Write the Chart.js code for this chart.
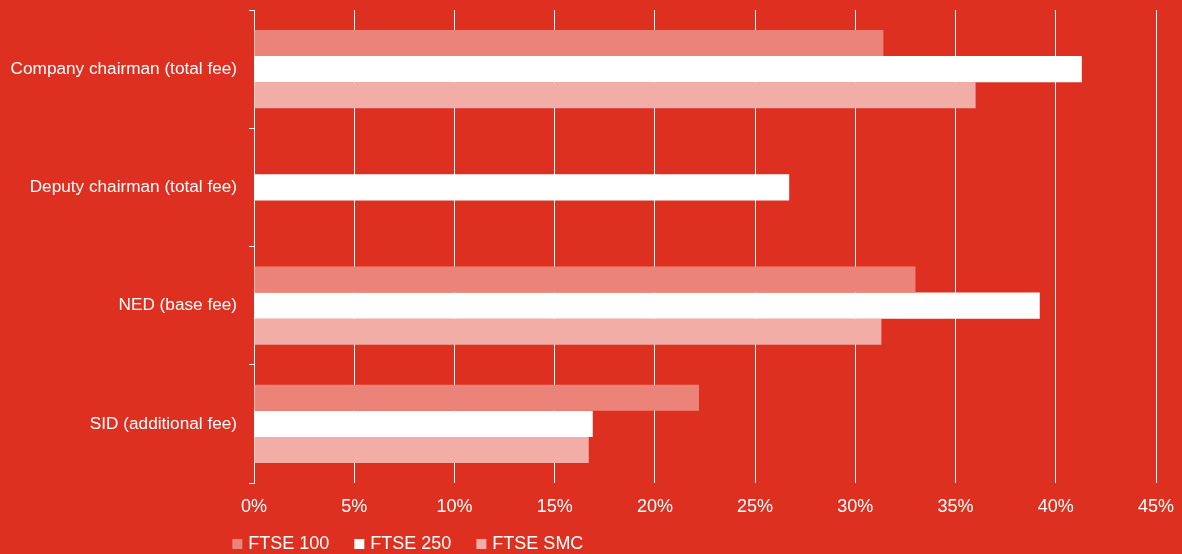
<!DOCTYPE html>
<html>
<head>
<meta charset="utf-8">
<script src="https://cdn.jsdelivr.net/npm/chart.js@4/dist/chart.umd.min.js"></script>
<style>
  html, body { margin: 0; padding: 0; background: #DE3020; }
  #wrap { width: 1182px; height: 554px; position: relative; }
</style>
</head>
<body>
<div id="wrap"><canvas id="c" width="1182" height="554"></canvas></div>
<script>
const categories = [
  'Company chairman (total fee)',
  'Deputy chairman (total fee)',
  'NED (base fee)',
  'SID (additional fee)'
];
const seriesNames = ['FTSE 100', 'FTSE 250', 'FTSE SMC'];
const ftse100 = [31.4, null, 33.0, 22.2];
const ftse250 = [41.3, 26.7, 39.2, 16.9];
const ftseSmc = [36.0, null, 31.3, 16.7];
const xTickValues = [0, 5, 10, 15, 20, 25, 30, 35, 40, 45];

const colors = ['#EC8379', '#FFFFFF', '#F1ADA6'];
const textColor = '#FFFFFF';
const fontFamily = '"Liberation Sans", Arial, Helvetica, sans-serif';

const legendPlace = {
  id: 'legendPlace',
  afterLayout(chart) {
    const lg = chart.legend;
    if (!lg) return;
    lg.left = 207.3;
    lg.top = 507;
  }
};

new Chart(document.getElementById('c'), {
  type: 'bar',
  data: {
    labels: categories,
    datasets: [
      { label: seriesNames[0], data: ftse100, backgroundColor: colors[0], borderWidth: 0 },
      { label: seriesNames[1], data: ftse250, backgroundColor: colors[1], borderWidth: 0 },
      { label: seriesNames[2], data: ftseSmc, backgroundColor: colors[2], borderWidth: 0 }
    ]
  },
  options: {
    indexAxis: 'y',
    responsive: false,
    animation: false,
    devicePixelRatio: 1,
    categoryPercentage: 0.66,
    barPercentage: 1.0,
    layout: { padding: { top: 10, right: 26, bottom: 0, left: 0 } },
    plugins: {
      tooltip: { enabled: false },
      legend: {
        position: 'bottom',
        align: 'start',
        maxHeight: 30,
        labels: {
          usePointStyle: true,
          pointStyle: 'rect',
          boxWidth: 4,
          boxHeight: 10,
          padding: 28,
          color: textColor,
          font: { family: fontFamily, size: 18 }
        }
      }
    },
    scales: {
      x: {
        min: 0,
        max: 45,
        afterFit(scale) {
          scale.height = 41;
          scale.paddingLeft = 0;
          scale.paddingRight = 0;
        },
        afterBuildTicks(scale) { scale.ticks = xTickValues.map(v => ({ value: v })); },
        ticks: {
          stepSize: 5,
          padding: 13,
          color: textColor,
          font: { family: fontFamily, size: 18 },
          callback: v => v + '%'
        },
        grid: { color: '#FFFFFF', lineWidth: 1, drawTicks: false },
        border: { display: false }
      },
      y: {
        afterFit(scale) {
          scale.width = 254;
          scale.paddingTop = 0;
          scale.paddingBottom = 0;
        },
        ticks: {
          padding: 12,
          color: textColor,
          font: { family: fontFamily, size: 17.2 }
        },
        grid: {
          offset: true,
          drawOnChartArea: false,
          drawTicks: true,
          tickLength: 5,
          color: '#FFFFFF',
          lineWidth: 1
        },
        border: { display: true, color: '#FFFFFF', width: 1 }
      }
    }
  },
  plugins: [legendPlace]
});
</script>
</body>
</html>
